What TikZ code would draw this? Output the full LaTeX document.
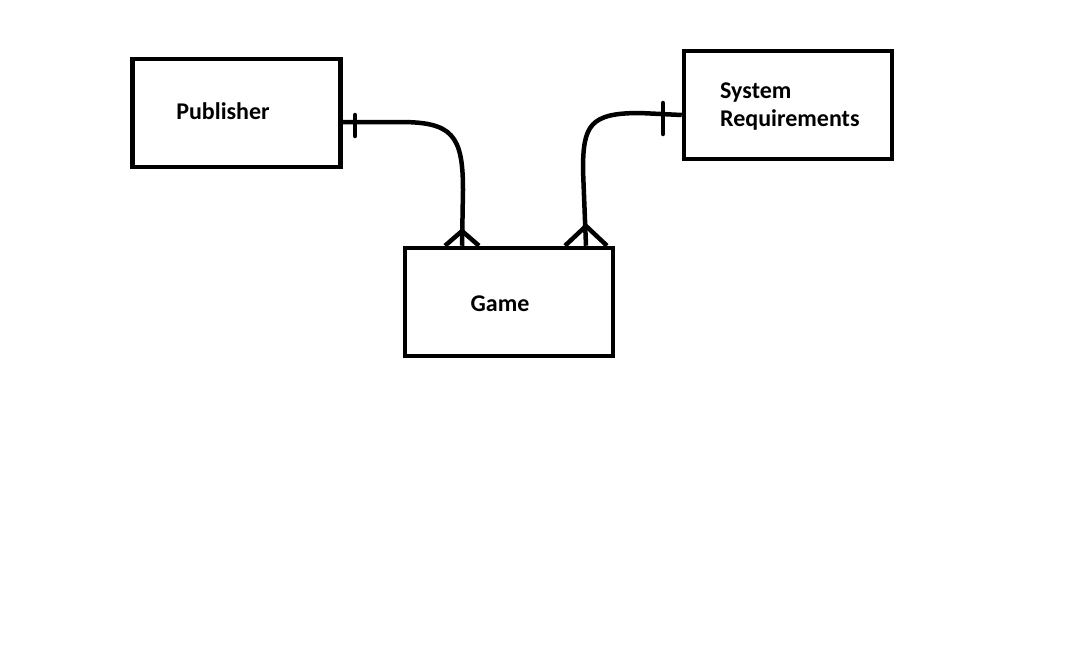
\documentclass[tikz,border=0pt]{standalone}
\usepackage{fontspec}
\setmainfont{Carlito}
\begin{document}
\begin{tikzpicture}[x=1pt,y=-1pt,
  entity/.style={draw=black,line width=4.5pt,rectangle,minimum width=208pt,minimum height=108pt,inner sep=0pt},
  lbl/.style={font=\fontsize{24}{28}\selectfont\bfseries,inner sep=0pt},
  conn/.style={line width=4.5pt,black},
  tick/.style={line width=4.5pt,line cap=round,black}]
\useasboundingbox[fill=white] (0,0) rectangle (1086,646);
\node[entity] (pub) at (236.5,113) {};
\node[entity] (sys) at (788,105) {};
\node[entity] (game) at (509,302) {};
\node[lbl] (publbl) at (223,111) {Publisher};
\node[lbl,align=left,anchor=west] (syslbl) at (720,107) {System\\Requirements};
\node[lbl] (gamelbl) at (500,304) {Game};
% Publisher -- Game
\draw[conn] ([yshift=-9pt]pub.east) -- (400,122) .. controls (452,122) and (463,135) .. (463,190) -- ([xshift=-47pt]game.north);
\draw[tick] (355,115) -- (355,136);
\draw[conn] ([xshift=-64pt]game.north) -- (462,231) -- ([xshift=-30pt]game.north);
% System Requirements -- Game
\draw[conn] ([yshift=-10pt]sys.west) -- (640,113) .. controls (590,113) and (583,125) .. (583,170) -- ([xshift=77pt]game.north);
\draw[tick] (663,103) -- (663,134);
\draw[conn] ([xshift=56pt]game.north) -- (586,226) -- ([xshift=98pt]game.north);
\end{tikzpicture}
\end{document}
